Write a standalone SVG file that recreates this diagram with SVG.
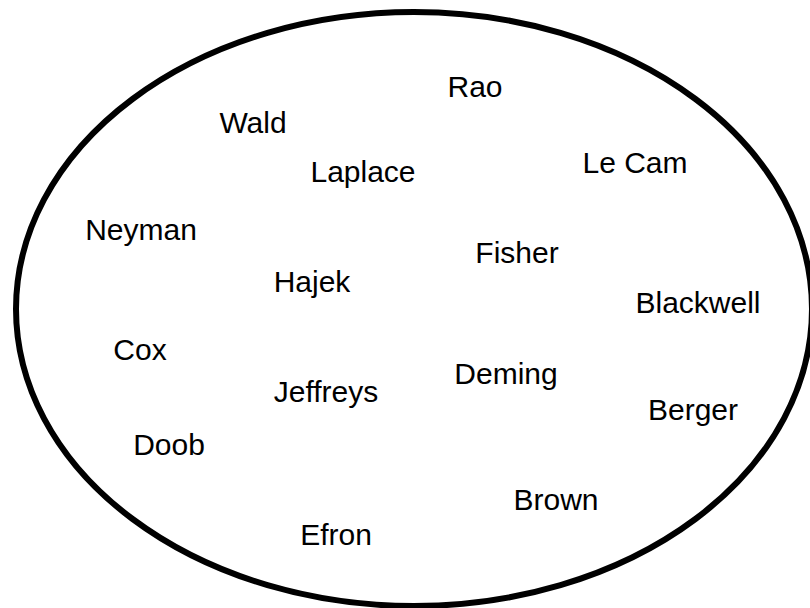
<svg xmlns="http://www.w3.org/2000/svg" width="810" height="608" viewBox="0 0 810 608">
  <style>
    .frame { fill: none; stroke: #000; stroke-width: 6; }
    .name { font-family: "Liberation Sans", Arial, sans-serif; font-size: 30px; fill: #000; text-anchor: middle; }
  </style>
  <rect width="810" height="608" fill="#fff"/>
  <ellipse class="frame" cx="414" cy="309" rx="398" ry="297"/>
  <g id="names">
    <g id="rao"><text class="name" x="475" y="97">Rao</text></g>
    <g id="wald"><text class="name" x="253" y="133">Wald</text></g>
    <g id="laplace"><text class="name" x="363" y="182">Laplace</text></g>
    <g id="lecam"><text class="name" x="635" y="173">Le Cam</text></g>
    <g id="neyman"><text class="name" x="141" y="240">Neyman</text></g>
    <g id="fisher"><text class="name" x="517" y="263">Fisher</text></g>
    <g id="hajek"><text class="name" x="312" y="292">Hajek</text></g>
    <g id="blackwell"><text class="name" x="698" y="313">Blackwell</text></g>
    <g id="cox"><text class="name" x="140" y="360">Cox</text></g>
    <g id="deming"><text class="name" x="506" y="384">Deming</text></g>
    <g id="jeffreys"><text class="name" x="326" y="402">Jeffreys</text></g>
    <g id="berger"><text class="name" x="693" y="420">Berger</text></g>
    <g id="doob"><text class="name" x="169" y="455">Doob</text></g>
    <g id="brown"><text class="name" x="556" y="510">Brown</text></g>
    <g id="efron"><text class="name" x="336" y="545">Efron</text></g>
  </g>
</svg>
